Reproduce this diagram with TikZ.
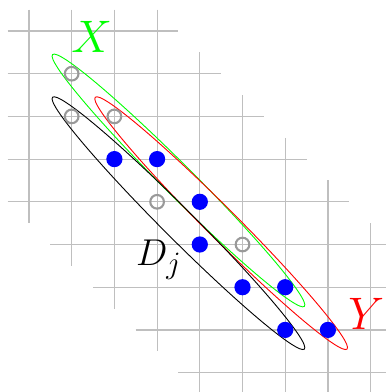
\documentclass[tikz,border=0pt]{standalone}
\usepackage{amsmath}
\usepackage{tikz}
\usetikzlibrary{shapes.geometric}

\begin{document}
\begin{tikzpicture}[
  gridline/.style={draw=black!25, line width=0.8pt},
  emptypt/.style={circle, draw=black!40, line width=1.4pt, inner sep=0pt, minimum size=0.32cm},
  fullpt/.style={circle, fill=blue, inner sep=0pt, minimum size=0.38cm},
  setring/.style={ellipse, draw=#1, line width=0.6pt, inner sep=0pt,
                  minimum width=8.34cm, minimum height=0.72cm, rotate=-45},
  biglabel/.style={font=\Huge, text=#1, inner sep=0pt, scale=1.22}
]
\useasboundingbox (-0.679,0.726) rectangle (8.36,-8.454);

% Grid (staircase band)
\foreach \i in {0,...,8}
  \draw[gridline] ({-0.5+max(0,\i-4)},-\i) -- ({3.5+\i},-\i);
\foreach \j in {0,...,8}
  \draw[gridline] (\j,{0.5-max(0,\j-3)}) -- (\j,{-4.5-\j});

% Sets
\node[setring=green] (Xset) at (3.5,-3.5) {};
\node[setring=red]   (Yset) at (4.5,-4.5) {};
\node[setring=black] (Dset) at (3.5,-4.5) {};

% Empty points
\node[emptypt] (e1) at (1,-1) {};
\node[emptypt] (e2) at (1,-2) {};
\node[emptypt] (e3) at (2,-2) {};
\node[emptypt] (e4) at (3,-4) {};
\node[emptypt] (e5) at (5,-5) {};

% Filled points
\node[fullpt] (f1) at (2,-3) {};
\node[fullpt] (f2) at (3,-3) {};
\node[fullpt] (f3) at (4,-4) {};
\node[fullpt] (f4) at (4,-5) {};
\node[fullpt] (f5) at (5,-6) {};
\node[fullpt] (f6) at (6,-6) {};
\node[fullpt] (f7) at (6,-7) {};
\node[fullpt] (f8) at (7,-7) {};

% Labels
\node[biglabel=green, anchor=base] (Xlab) at (1.47,-0.51) {$X$};
\node[biglabel=red, anchor=base] (Ylab) at (7.9,-7.0) {$Y$};
\node[font=\Huge, inner sep=0pt, anchor=base west] (Dlab) at (2.5,-5.5) {$D_j$};

\end{tikzpicture}
\end{document}
